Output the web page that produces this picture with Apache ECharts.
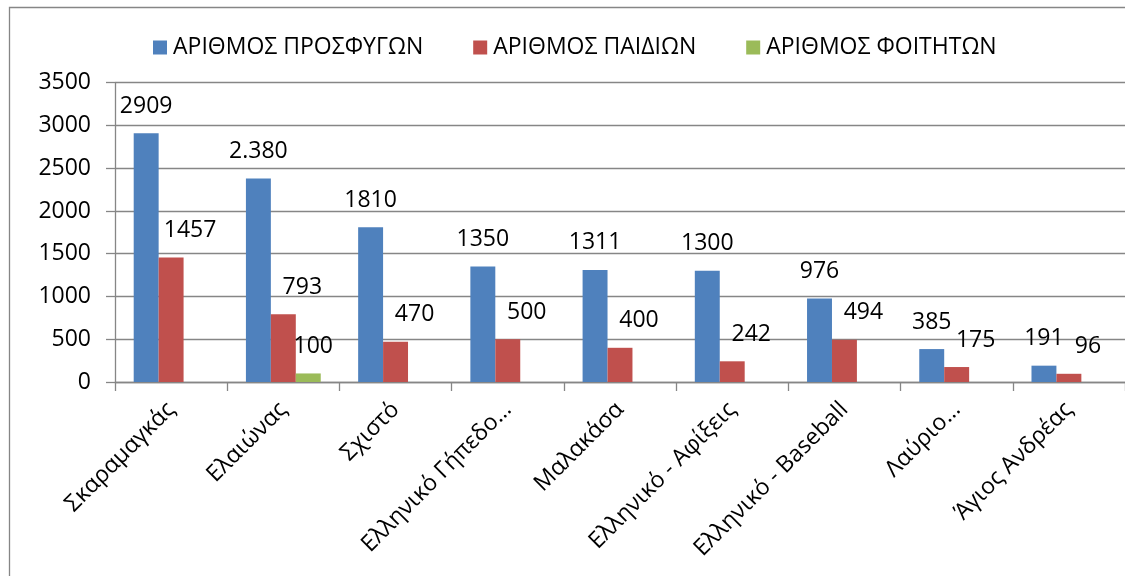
<!DOCTYPE html>
<html>
<head>
<meta charset="utf-8">
<title>Refugees</title>
<script src="https://cdn.jsdelivr.net/npm/echarts@6/dist/echarts.min.js"></script>
<style>
  html, body { margin: 0; padding: 0; background: #fff; }
  #chart { width: 1125px; height: 576px; }
</style>
</head>
<body>
<div id="chart"></div>
<script>
const categories = ['Σκαραμαγκάς', 'Ελαιώνας', 'Σχιστό', 'Ελληνικό Γήπεδο…', 'Μαλακάσα',
  'Ελληνικό - Αφίξεις', 'Ελληνικό - Baseball', 'Λαύριο…', 'Άγιος Ανδρέας']
const seriesNames = ['ΑΡΙΘΜΟΣ ΠΡΟΣΦΥΓΩΝ', 'ΑΡΙΘΜΟΣ ΠΑΙΔΙΩΝ', 'ΑΡΙΘΜΟΣ ΦΟΙΤΗΤΩΝ']
const refugees = [2909, 2380, 1810, 1350, 1311, 1300, 976, 385, 191]
const refugeeLabels = ['2909', '2.380', '1810', '1350', '1311', '1300', '976', '385', '191']
const children = [1457, 793, 470, 500, 400, 242, 494, 175, 96]
const students = [null, 100, null, null, null, null, null, null, null]
const yTicks = [0, 500, 1000, 1500, 2000, 2500, 3000, 3500]

const font = '"Open Sans", "Noto Sans", sans-serif'
const gray = '#868686'
const colors = ['#4F81BD', '#C0504D', '#9BBB59']

const chart = echarts.init(document.getElementById('chart'))

function labelStyle(dx, fmt) {
  return {
    show: true,
    position: 'top',
    distance: 16,
    offset: [dx, 0],
    color: '#000',
    fontFamily: font,
    fontSize: 23,
    lineHeight: 22,
    formatter: fmt
  }
}

chart.setOption({
  animation: false,
  color: colors,
  graphic: [{
    type: 'rect',
    left: 7, top: 5,
    shape: { width: 1140, height: 600 },
    style: { fill: 'none', stroke: gray, lineWidth: 1.3 },
    silent: true
  }],
  legend: {
    left: 148,
    top: 31,
    itemWidth: 14,
    itemHeight: 14,
    itemGap: 50,
    icon: 'rect',
    textStyle: { fontFamily: font, fontSize: 23, color: '#000', padding: [0, 0, 0, 1] },
    data: seriesNames
  },
  grid: { left: 115, top: 82.7, width: 1012.5, height: 299.3, containLabel: false },
  xAxis: {
    type: 'category',
    data: categories,
    axisLine: { lineStyle: { color: gray, width: 1.3 } },
    axisTick: { show: true, length: 9, lineStyle: { color: gray, width: 1.3 } },
    axisLabel: {
      interval: 0,
      rotate: 45,
      margin: 24,
      color: '#000',
      fontFamily: font,
      fontSize: 23
    }
  },
  yAxis: {
    type: 'value',
    min: yTicks[0],
    max: yTicks[yTicks.length - 1],
    interval: 500,
    axisLine: { show: true, lineStyle: { color: gray, width: 1.3 } },
    axisTick: { show: true, length: 9, lineStyle: { color: gray, width: 1.3 } },
    splitLine: { lineStyle: { color: gray, width: 1.3 } },
    axisLabel: { margin: 24, color: '#000', fontFamily: font, fontSize: 23, formatter: v => String(v) }
  },
  series: [
    {
      name: seriesNames[0], type: 'bar', data: refugees,
      barGap: '0%', barCategoryGap: '33.33%',
      label: labelStyle(0, p => refugeeLabels[p.dataIndex])
    },
    {
      name: seriesNames[1], type: 'bar', data: children,
      barGap: '0%', barCategoryGap: '33.33%',
      label: labelStyle(19, '{c}')
    },
    {
      name: seriesNames[2], type: 'bar', data: students,
      barGap: '0%', barCategoryGap: '33.33%',
      label: labelStyle(5, '{c}')
    }
  ]
})
</script>
</body>
</html>
